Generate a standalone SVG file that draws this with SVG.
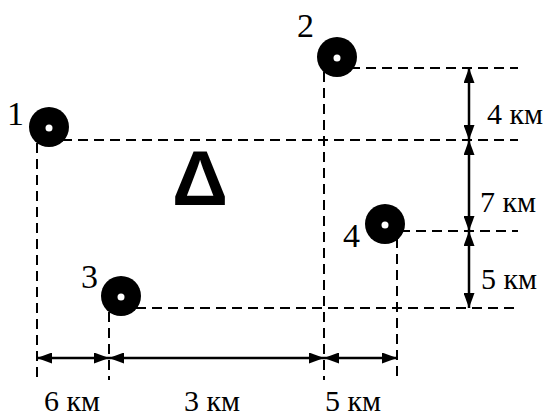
<svg xmlns="http://www.w3.org/2000/svg" width="552" height="418" viewBox="0 0 552 418">
<defs>
<style>
.dash{stroke:#000;stroke-width:2;stroke-dasharray:10 6;fill:none}
.dim{stroke:#000;stroke-width:2.5;fill:none}
.km{font-family:"Liberation Serif","Times New Roman",serif;font-size:30px;fill:#000}
.num{font-family:"Liberation Serif","Times New Roman",serif;font-size:34px;fill:#000}
.pt{fill:#000}
.dot{fill:#fff}
</style>
<marker id="ah" viewBox="0 0 15 11" refX="15" refY="5.5" markerWidth="15" markerHeight="11" markerUnits="userSpaceOnUse" orient="auto-start-reverse">
<path d="M0,0 L15,5.5 L0,11 Z" fill="#000"/>
</marker>
</defs>
<rect width="552" height="418" fill="#fff"/>
<g id="connectors">
<line class="dash" x1="62" y1="140" x2="518" y2="140"/>
<line class="dash" x1="350" y1="68" x2="518" y2="68"/>
<line class="dash" x1="400" y1="231" x2="518" y2="231"/>
<line class="dash" x1="136" y1="308" x2="518" y2="308"/>
<line class="dash" x1="37" y1="143" x2="37" y2="378"/>
<line class="dash" x1="324" y1="72" x2="324" y2="380"/>
<line class="dash" x1="397" y1="238" x2="397" y2="380"/>
<line class="dash" x1="109" y1="312" x2="109" y2="380"/>
<line class="dim" x1="469" y1="68" x2="469" y2="140" marker-start="url(#ah)" marker-end="url(#ah)"/>
<line class="dim" x1="469" y1="140" x2="469" y2="231" marker-start="url(#ah)" marker-end="url(#ah)"/>
<line class="dim" x1="469" y1="231" x2="469" y2="308" marker-start="url(#ah)" marker-end="url(#ah)"/>
<line class="dim" x1="37" y1="358" x2="109" y2="358" marker-start="url(#ah)" marker-end="url(#ah)"/>
<line class="dim" x1="109" y1="358" x2="324" y2="358" marker-start="url(#ah)" marker-end="url(#ah)"/>
<line class="dim" x1="324" y1="358" x2="397" y2="358" marker-start="url(#ah)" marker-end="url(#ah)"/>
</g>
<g id="node1"><circle class="pt" cx="49" cy="127" r="20"/><circle class="dot" cx="49" cy="128" r="3.5"/><text class="num" x="7" y="125">1</text></g>
<g id="node2"><circle class="pt" cx="337" cy="57" r="20"/><circle class="dot" cx="337" cy="58" r="3.5"/><text class="num" x="297" y="37">2</text></g>
<g id="node3"><circle class="pt" cx="121" cy="296" r="20"/><circle class="dot" cx="121" cy="297" r="3.5"/><text class="num" x="81" y="288">3</text></g>
<g id="node4"><circle class="pt" cx="385" cy="224" r="20"/><circle class="dot" cx="385" cy="225" r="3.5"/><text class="num" x="343" y="247">4</text></g>
<g id="target"><text x="200" y="205" text-anchor="middle" font-family="Liberation Sans, Arial, sans-serif" font-weight="bold" font-size="78">Δ</text></g>
<g id="labels">
<text class="km" x="487" y="124">4 км</text>
<text class="km" x="480" y="212">7 км</text>
<text class="km" x="481" y="289">5 км</text>
<text class="km" x="44" y="411">6 км</text>
<text class="km" x="184" y="411">3 км</text>
<text class="km" x="325" y="411">5 км</text>
</g>
</svg>
